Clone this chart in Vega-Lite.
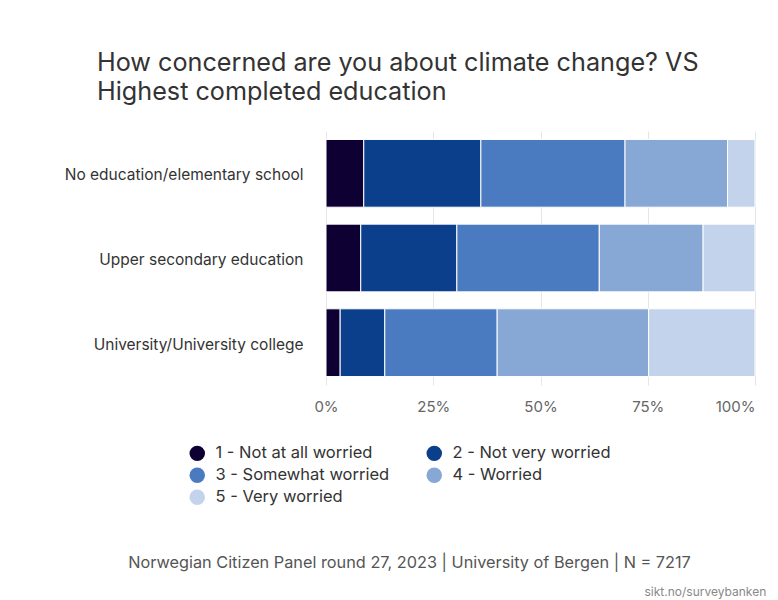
{
  "$schema": "https://vega.github.io/schema/vega-lite/v6.json",
  "autosize": {"type": "none"},
  "padding": {"left": 326, "top": 131, "right": 23, "bottom": 215},
  "width": 429,
  "height": 254,
  "background": "white",
  "title": {
    "text": ["How concerned are you about climate change? VS", "Highest completed education"],
    "anchor": "start",
    "frame": "group",
    "dx": -229,
    "offset": 26,
    "fontSize": 25.2,
    "lineHeight": 29,
    "font": "Inter",
    "fontWeight": "normal",
    "color": "#333333"
  },
  "data": {
    "values": [
      {"edu": "No education/elementary school", "resp": "1 - Not at all worried", "k": 1, "pct": 8.8},
      {"edu": "No education/elementary school", "resp": "2 - Not very worried", "k": 2, "pct": 27.3},
      {"edu": "No education/elementary school", "resp": "3 - Somewhat worried", "k": 3, "pct": 33.6},
      {"edu": "No education/elementary school", "resp": "4 - Worried", "k": 4, "pct": 23.9},
      {"edu": "No education/elementary school", "resp": "5 - Very worried", "k": 5, "pct": 6.4},
      {"edu": "Upper secondary education", "resp": "1 - Not at all worried", "k": 1, "pct": 8.1},
      {"edu": "Upper secondary education", "resp": "2 - Not very worried", "k": 2, "pct": 22.4},
      {"edu": "Upper secondary education", "resp": "3 - Somewhat worried", "k": 3, "pct": 33.2},
      {"edu": "Upper secondary education", "resp": "4 - Worried", "k": 4, "pct": 24.2},
      {"edu": "Upper secondary education", "resp": "5 - Very worried", "k": 5, "pct": 12.1},
      {"edu": "University/University college", "resp": "1 - Not at all worried", "k": 1, "pct": 3.3},
      {"edu": "University/University college", "resp": "2 - Not very worried", "k": 2, "pct": 10.4},
      {"edu": "University/University college", "resp": "3 - Somewhat worried", "k": 3, "pct": 26.2},
      {"edu": "University/University college", "resp": "4 - Worried", "k": 4, "pct": 35.3},
      {"edu": "University/University college", "resp": "5 - Very worried", "k": 5, "pct": 24.8}
    ]
  },
  "mark": {"type": "bar", "stroke": "white", "strokeWidth": 1},
  "encoding": {
    "y": {
      "field": "edu",
      "type": "nominal",
      "sort": null,
      "scale": {"paddingInner": 0.2, "paddingOuter": 0.1},
      "axis": {
        "domain": false,
        "ticks": false,
        "labelPadding": 23,
        "labelOffset": 2,
        "labelFontSize": 15.5,
        "labelColor": "#333333",
        "labelFont": "Inter",
        "labelLimit": 400,
        "title": "sikt.no/surveybanken",
        "titleAngle": 0,
        "titleAlign": "left",
        "titleBaseline": "middle",
        "titleX": 318,
        "titleY": 460,
        "titleFont": "Inter",
        "titleFontSize": 12,
        "titleFontWeight": "normal",
        "titleColor": "#888888"
      }
    },
    "x": {
      "field": "pct",
      "type": "quantitative",
      "stack": "normalize",
      "scale": {"domain": [0, 1], "nice": false},
      "axis": {
        "format": ".0%",
        "values": [0, 0.25, 0.5, 0.75, 1],
        "domain": false,
        "ticks": false,
        "grid": true,
        "gridColor": "#e6e6e6",
        "labelPadding": 14,
        "labelFontSize": 15,
        "labelColor": "#666666",
        "labelFont": "Inter",
        "labelAlign": {"expr": "datum.value == 1 ? 'right' : 'center'"},
        "title": "Norwegian Citizen Panel round 27, 2023 | University of Bergen | N = 7217",
        "titleX": 83,
        "titleY": 177,
        "titleAlign": "center",
        "titleBaseline": "middle",
        "titleFont": "Inter",
        "titleFontSize": 16.3,
        "titleFontWeight": "normal",
        "titleColor": "#555555"
      }
    },
    "color": {
      "field": "resp",
      "type": "nominal",
      "scale": {
        "domain": ["1 - Not at all worried", "2 - Not very worried", "3 - Somewhat worried", "4 - Worried", "5 - Very worried"],
        "range": ["#0f0034", "#0b3f8b", "#4a7bc1", "#87a7d5", "#c2d3eb"]
      },
      "legend": {
        "orient": "none",
        "legendX": -137,
        "legendY": 314,
        "columns": 2,
        "direction": "horizontal",
        "title": null,
        "padding": 0,
        "symbolType": "circle",
        "symbolSize": 240,
        "symbolStrokeWidth": 0,
        "labelFont": "Inter",
        "labelFontSize": 16.5,
        "labelColor": "#333333",
        "labelOffset": 10,
        "columnPadding": 36,
        "rowPadding": 5,
        "labelLimit": 300
      }
    },
    "order": {"field": "k", "type": "quantitative"}
  },
  "config": {"view": {"stroke": null}}
}
